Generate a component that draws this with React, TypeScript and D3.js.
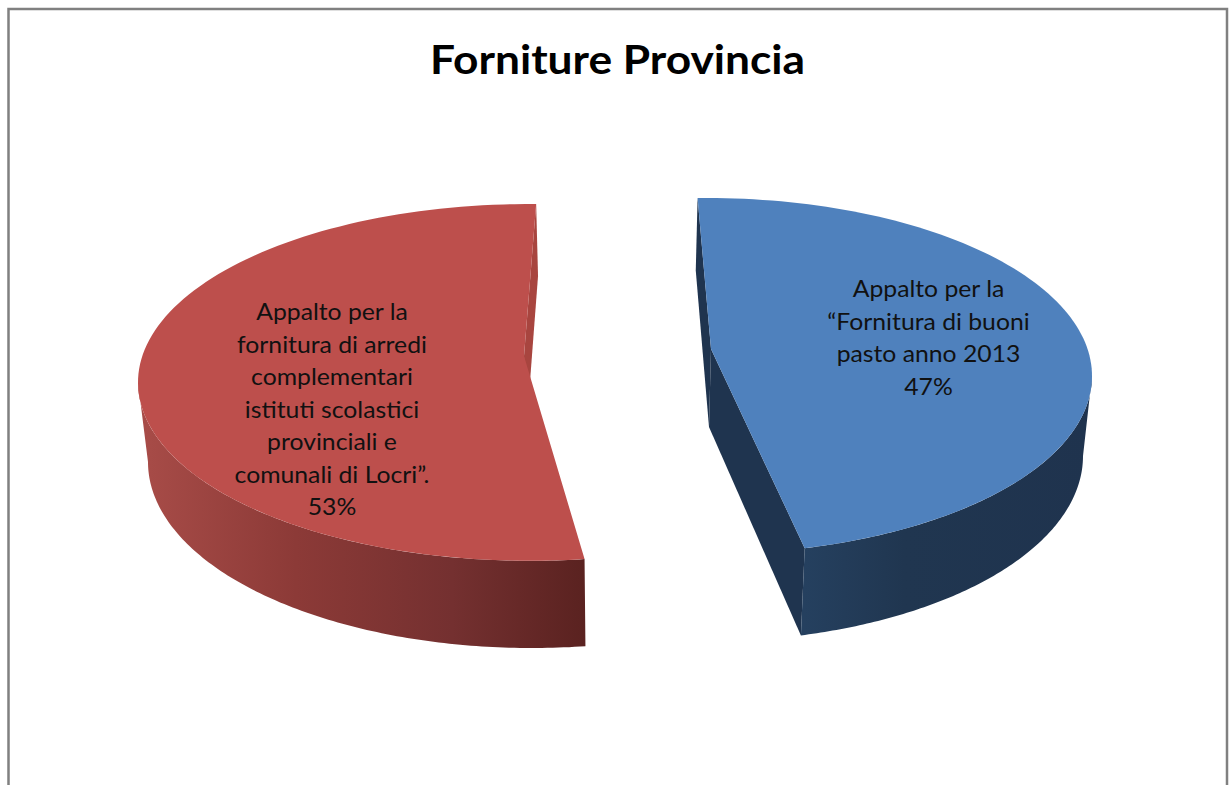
import React from "react";
import * as d3 from "d3";

const title = "Forniture Provincia";
const categories = ["Fornitura di buoni pasto anno 2013", "Fornitura di arredi"];
const values = [47, 53];
const labelLines = [
  ["Appalto per la", "“Fornitura di buoni", "pasto anno 2013", "47%"],
  ["Appalto per la", "fornitura di arredi", "complementari", "istituti scolastici", "provinciali e", "comunali di Locri”.", "53%"],
];
const topColors = ["#4f81bd", "#bd4f4c"];
const cutColors = ["#1f344f", "#a8453f"];
const wallStops = [
  [["0%", "#25405f"], ["35%", "#203650"], ["100%", "#1f334e"]],
  [["0%", "#a84c48"], ["35%", "#8c3a37"], ["70%", "#743030"], ["100%", "#5a2220"]],
];

// projected geometry of each exploded slice
const geometry = [
  {
    top: { cx: 707, cy: 376, rx: 385, ry: 178 }, bottom: { cx: 705, cy: 456, rx: 378, ry: 185.5 },
    apex: [711, 349], apexBottom: [709, 427], param: [-1.4, 165.3], wall: [90, 165.3], backCut: 0,
    gradX: [805, 1090], labelX: 928.5, labelY: 297,
  },
  {
    top: { cx: 530, cy: 382.4, rx: 392, ry: 178.4 }, bottom: { cx: 532, cy: 462, rx: 384, ry: 186 },
    apex: [524, 356], apexBottom: [526, 434], param: [172, 360.9], wall: [172, 270], backCut: 1,
    gradX: [140, 586], labelX: 332, labelY: 320,
  },
];

const rad = (d: number) => (d * Math.PI) / 180;
const onEllipse = (e: any, deg: number): [number, number] => [
  e.cx + e.rx * Math.sin(rad(deg)),
  e.cy - e.ry * Math.cos(rad(deg)),
];
const arcPoints = (e: any, a: number, b: number) =>
  d3.range(0, 121).map((i) => onEllipse(e, a + ((b - a) * i) / 120));

const line = d3.line();

export default function App() {
  const pie = d3.pie<number>().sort(null)(values);
  return (
    <svg width={1231} height={785} style={{ position: "absolute", left: 0, top: 0, background: "#fff" }}>
      <defs>
        {geometry.map((g, i) => (
          <linearGradient key={i} id={`wall${i}`} gradientUnits="userSpaceOnUse" x1={g.gradX[0]} x2={g.gradX[1]} y1={0} y2={0}>
            {wallStops[i].map(([o, c]) => (
              <stop key={o} offset={o} stopColor={c} />
            ))}
          </linearGradient>
        ))}
      </defs>
      <path d="M8.5,785V9H1227V785" fill="none" stroke="#808080" strokeWidth={2.5} />
      <text
        transform="translate(617.5,74) scale(1.08,1)"
        textAnchor="middle"
        fontFamily="Lato"
        fontWeight={700}
        fontSize={41}
        fill="#000"
      >
        {title}
      </text>
      {pie.map((s, i) => {
        const g = geometry[i];
        const toParam = d3.scaleLinear().domain([s.startAngle, s.endAngle]).range(g.param);
        const t0 = toParam(s.startAngle);
        const t1 = toParam(s.endAngle);
        const topArc = arcPoints(g.top, t0, t1);
        const face = line([g.apex as [number, number], ...topArc]) + "Z";
        const wall =
          line([...arcPoints(g.top, g.wall[0], g.wall[1]), ...arcPoints(g.bottom, g.wall[1], g.wall[0])]) + "Z";
        // the cut face that stays visible: the closing edge for the red slice, the opening edge for blue
        const edgeDeg = g.backCut ? t1 : t0;
        const cutA = [
          onEllipse(g.top, edgeDeg),
          onEllipse(g.bottom, edgeDeg),
          g.apexBottom as [number, number],
          g.apex as [number, number],
        ];
        const cutB = g.backCut
          ? null
          : [
              g.apex as [number, number],
              g.apexBottom as [number, number],
              onEllipse(g.bottom, t1),
              onEllipse(g.top, t1),
            ];
        return (
          <g key={categories[i]}>
            <path d={line(cutA) + "Z"} fill={cutColors[i]} />
            {cutB && <path d={line(cutB) + "Z"} fill={cutColors[i]} />}
            <path d={wall} fill={`url(#wall${i})`} />
            <path d={face} fill={topColors[i]} />
            {labelLines[i].map((l, j) => (
              <text
                key={j}
                transform={`translate(${g.labelX},${g.labelY + j * 32.5}) scale(1.1,1)`}
                fontFamily="Lato"
                fontSize={22.5}
                fill="#111"
                textAnchor="middle"
              >
                {l}
              </text>
            ))}
          </g>
        );
      })}
    </svg>
  );
}
